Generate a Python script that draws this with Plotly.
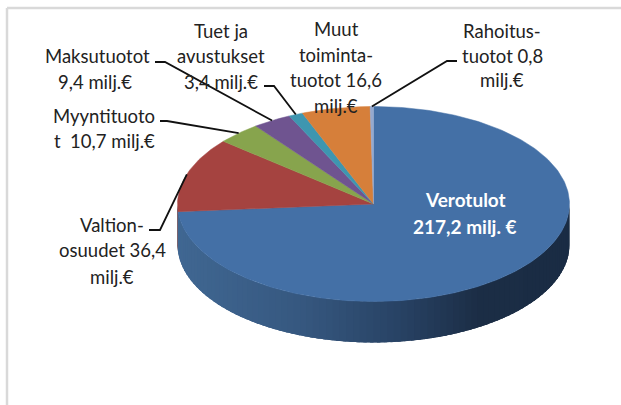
import math
import plotly.graph_objects as go

names = ["Verotulot", "Valtionosuudet", "Myyntituotot", "Maksutuotot", "Tuet ja avustukset", "Muut toimintatuotot", "Rahoitustuotot"]
values = [217.2, 36.4, 10.7, 9.4, 3.4, 16.6, 0.8]
colors = ["#4470a6", "#a54340", "#87a44d", "#6f5490", "#3e96b0", "#d67f3a", "#95a9cf"]

# geometry of the tilted pie, in pixel-like axis units
CX, CY, RX, RY, DEPTH = 373.5, 204.0, 196.0, 97.5, 41.0
TOTAL = sum(values)


def pt(deg, dy=0.0):
    a = math.radians(deg)
    return CX + RX * math.sin(a), CY - RY * math.cos(a) + dy


def lerp_color(x):
    stops = [(178, (64, 103, 146)), (300, (54, 88, 128)), (400, (40, 66, 100)), (480, (27, 45, 69)), (569, (26, 44, 68))]
    for (x0, c0), (x1, c1) in zip(stops, stops[1:]):
        if x <= x1:
            t = max(0, (x - x0) / (x1 - x0))
            return "rgb(%d,%d,%d)" % tuple(round(p + (q - p) * t) for p, q in zip(c0, c1))
    return "rgb(26,44,68)"


fig = go.Figure()
edges = [0.0]
for v in values:
    edges.append(edges[-1] + v / TOTAL * 360)

# side wall: painted in overlapping bands so no seams show
step = 2.0
a = 90.0
while a < 270.0:
    b = min(a + step + 3.0, 270.0)
    angs = [a + (b - a) * j / 4 for j in range(5)]
    top = [pt(t) for t in angs]
    bot = [pt(t, DEPTH) for t in reversed(angs)]
    poly = top + bot + [top[0]]
    xm = pt(a + step / 2)[0]
    col = lerp_color(xm) if a < edges[1] else "#6e2c2a"
    fig.add_trace(go.Scatter(x=[p[0] for p in poly], y=[p[1] for p in poly], mode="lines", fill="toself",
                             fillcolor=col, line=dict(color=col, width=0), hoverinfo="skip", showlegend=False))
    a += step

# top face
for i, (n, col) in enumerate(zip(names, colors)):
    s, e = edges[i], edges[i + 1]
    k = max(2, int((e - s) / 1.0))
    arc = [pt(s + (e - s) * j / k) for j in range(k + 1)]
    poly = [(CX, CY)] + arc + [(CX, CY)]
    fig.add_trace(go.Scatter(x=[p[0] for p in poly], y=[p[1] for p in poly], mode="lines", fill="toself",
                             fillcolor=col, line=dict(color=col, width=0.5), name=n, hoverinfo="name", showlegend=False))

# leader lines: start on the slice rim, then elbow and end beside the label
leaders = {1: [(160, 230), (149, 230)], 2: [(167, 121), (160, 121)], 3: [(165, 62), (155, 62)],
           4: [(274, 86), (264, 86)], 6: [(447, 61), (457, 61)]}
for i, path in leaders.items():
    start = pt((edges[i] + edges[i + 1]) / 2)
    xs = [start[0]] + [p[0] for p in path]
    ys = [start[1]] + [p[1] for p in path]
    fig.add_trace(go.Scatter(x=xs, y=ys, mode="lines", line=dict(color="#111111", width=1.8),
                             hoverinfo="skip", showlegend=False))

labels = [
    ("Tuet ja", 221, 31), ("avustukset", 221, 56), ("3,4 milj.€", 221, 82),
    ("Muut", 336, 29), ("toiminta-", 336, 55), ("tuotot 16,6", 336, 80), ("milj.€", 336, 106),
    ("Rahoitus-", 502, 31), ("tuotot 0,8", 502, 56), ("milj.€", 502, 80),
    ("Maksutuotot", 97, 56), ("9,4 milj.€", 95, 82),
    ("Myyntituoto", 104, 116), ("t  10,7 milj.€", 104, 141),
    ("Valtion-", 112, 225), ("osuudet 36,4", 112, 250), ("milj.€", 112, 277),
]
annotations = [dict(x=x, y=y, text=t, showarrow=False, xanchor="center", yanchor="middle",
                    font=dict(family="Lato, Carlito, sans-serif", size=18.5, color="#222222")) for t, x, y in labels]
for t, x, y in [("Verotulot", 465, 199), ("217,2 milj. €", 465, 226)]:
    annotations.append(dict(x=x, y=y, text="<b>%s</b>" % t, showarrow=False, xanchor="center", yanchor="middle",
                            font=dict(family="Lato, Carlito, sans-serif", size=19, color="#ffffff")))

border = dict(color="#d9d9d9", width=2.5)
fig.update_layout(
    width=621, height=405, margin=dict(l=0, r=0, t=0, b=0),
    paper_bgcolor="white", plot_bgcolor="white", showlegend=False,
    xaxis=dict(range=[0, 621], visible=False, fixedrange=True),
    yaxis=dict(range=[405, 0], visible=False, fixedrange=True),
    annotations=annotations,
    shapes=[
        dict(type="line", xref="x", yref="y", x0=7, y0=8, x1=621, y1=8, line=border),
        dict(type="line", xref="x", yref="y", x0=7, y0=8, x1=7, y1=405, line=border),
    ],
)
fig.write_html("out.html", config={"displayModeBar": False},
               post_script="document.body.style.margin='0';document.documentElement.style.overflow='hidden';")
